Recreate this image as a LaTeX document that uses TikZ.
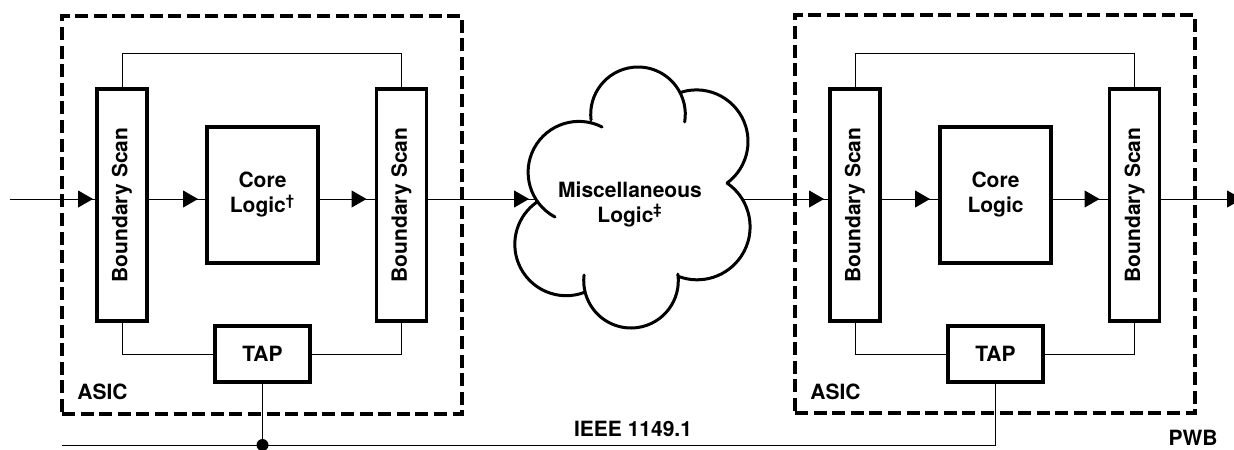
\documentclass[tikz,border=0pt]{standalone}
\usepackage{fontspec}
\setmainfont{TeX Gyre Heros}
\usetikzlibrary{arrows.meta,decorations.markings}

\tikzset{
  blk/.style={draw, line width=1.6pt, inner sep=0, outer sep=0, align=center},
  wire/.style={line width=0.5pt},
  sig/.style={wire, decoration={markings, mark=at position -#1 with {\arrow{Triangle[length=7.5pt,width=8.5pt]}}}, postaction=decorate},
  sig/.default=5pt,
  asic/.style={draw, dash pattern=on 6.5pt off 2.8pt, line width=1.6pt, minimum width=200pt, minimum height=199pt},
  puff/.style={line width=1.5pt, line cap=round}
}

\begin{document}
\begin{tikzpicture}[x=0.5pt, y=-0.5pt, font=\fontsize{10.5}{12.5}\selectfont\bfseries]
        \useasboundingbox (0,0) rectangle (1234,449);

        % left ASIC
        \node[asic] (asicL) at (262,215) {};
        \node[blk, minimum width=25pt, minimum height=116pt] (bsL1) at (122,205) {\rotatebox{90}{Boundary Scan}};
        \node[blk, minimum width=55.5pt, minimum height=68pt] (coreL) at (262.5,195) {Core\\Logic\textsuperscript{†}};
        \node[blk, minimum width=25pt, minimum height=116pt] (bsL2) at (401.5,205) {\rotatebox{90}{Boundary Scan}};
        \node[blk, minimum width=47.5pt, minimum height=28pt] (tapL) at (262.5,354) {TAP};
        \node[anchor=west, inner sep=0] (lblL) at (77,392) {ASIC};

        % right ASIC
        \node[asic] (asicR) at (995,214) {};
        \node[blk, minimum width=25pt, minimum height=116pt] (bsR1) at (855,205) {\rotatebox{90}{Boundary Scan}};
        \node[blk, minimum width=55.5pt, minimum height=68pt] (coreR) at (995.5,195) {Core\\Logic};
        \node[blk, minimum width=25pt, minimum height=116pt] (bsR2) at (1134.5,205) {\rotatebox{90}{Boundary Scan}};
        \node[blk, minimum width=47.5pt, minimum height=28pt] (tapR) at (995.5,354) {TAP};
        \node[anchor=west, inner sep=0] (lblR) at (810,392) {ASIC};

        % cloud between the chips, one arc per puff
        \draw[puff] (578.9,172.2) ++(118.1:50.8) arc[start angle=118.1, end angle=297.1, radius=50.8]
                    (638,114.3) ++(173.1:47.3) arc[start angle=173.1, end angle=369.3, radius=47.3]
                    (696.4,141.5) ++(253.8:51.6) arc[start angle=253.8, end angle=413.6, radius=51.6]
                    (697.1,226.8) ++(304.3:53) arc[start angle=304.3, end angle=470, radius=53]
                    (631,280.7) ++(-8:47.3) arc[start angle=-8, end angle=186.9, radius=47.3]
                    (566.2,244.3) ++(68.5:51.4) arc[start angle=68.5, end angle=235.4, radius=51.4];
        \node[align=center, inner sep=0] (misc) at (630,204) {Miscellaneous\\Logic\textsuperscript{‡}};
        \coordinate (miscW) at (536,199);
        \coordinate (miscE) at (742,199);

        % scan ring inside each chip
        \draw[wire] (bsL1.north) -- ++(0,-35) -| (bsL2.north);
        \draw[wire] (bsL1.south) |- (tapL.west);
        \draw[wire] (bsL2.south) |- (tapL.east);
        \draw[wire] (bsR1.north) -- ++(0,-35) -| (bsR2.north);
        \draw[wire] (bsR1.south) |- (tapR.west);
        \draw[wire] (bsR2.south) |- (tapR.east);

        % signal path
        \coordinate (in) at (10,199);
        \coordinate (out) at (1242,199);
        \draw[sig=2pt] (in) -- (in -| bsL1.west);
        \draw[sig=4.5pt] (bsL1.east |- in) -- (in -| coreL.west);
        \draw[sig] (coreL.east |- in) -- (in -| bsL2.west);
        \draw[sig=3.5pt] (bsL2.east |- in) -- (miscW);
        \draw[sig=3pt] (miscE) -- (in -| bsR1.west);
        \draw[sig] (bsR1.east |- in) -- (in -| coreR.west);
        \draw[sig] (coreR.east |- in) -- (in -| bsR2.west);
        \draw[wire, -{Triangle[length=7.5pt,width=8.5pt]}] (bsR2.east |- in) -- (out);

        % test bus
        \coordinate (bus) at (62,445);
        \draw[wire] (tapL.south) -- (tapL.south |- bus);
        \draw[wire] (bus) -- (tapR.south |- bus) -- (tapR.south);
        \fill (tapL.south |- bus) circle (3pt);

        \node (ieee) at (633,429) {IEEE 1149.1};
        \node (pwb) at (1193,438) {PWB};
      \end{tikzpicture}
\end{document}
